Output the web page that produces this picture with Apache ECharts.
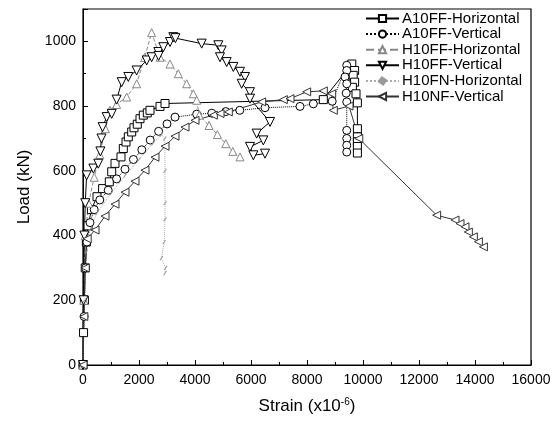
<!DOCTYPE html>
<html><head><meta charset="utf-8">
<script src="https://cdn.jsdelivr.net/npm/echarts@6/dist/echarts.min.js"></script>
<style>html,body{margin:0;padding:0;background:#fff}#c{width:560px;height:423px}</style>
</head><body><div id="c"></div>
<script>
var seriesNames = ['A10FF-Horizontal','A10FF-Vertical','H10FF-Horizontal','H10FF-Vertical','H10FN-Horizontal','H10NF-Vertical'];
var xTicks = [0,2000,4000,6000,8000,10000,12000,14000,16000];
var yTicks = [0,200,400,600,800,1000];

var a10ffH = [[0,0],[20,100],[50,200],[80,300],[120,380],[180,430],[300,480],[500,520],[700,545],[940,566],[1025,597],[1143,623],[1357,643],[1440,669],[1536,689],[1618,705],[1739,720],[1821,733],[1939,744],[2036,761],[2154,772],[2296,779],[2393,787],[2750,799],[2929,808],[8583,820],[9600,930],[9700,910],[9650,895],[9700,874],[9620,858],[9750,838],[9800,810],[9800,730],[9800,705],[9800,690],[9800,675],[9800,655]];
var a10ffV = [[0,0],[40,150],[90,300],[140,380],[250,440],[400,480],[600,510],[900,540],[1200,575],[1500,605],[1800,635],[2100,665],[2400,695],[2700,722],[3000,745],[3286,766],[4060,775],[4600,778],[5100,783],[5600,787],[6500,795],[7750,799],[8226,807],[8900,815],[9420,926],[9420,910],[9357,890],[9420,869],[9400,840],[9420,813],[9420,725],[9420,700],[9420,679],[9420,658]];
var h10ffH = [[0,0],[30,200],[80,400],[200,500],[400,580],[600,650],[800,730],[964,787],[1200,805],[1560,828],[1918,869],[2200,950],[2452,1027],[2750,951],[3107,930],[3404,900],[3702,869],[3940,838],[4060,818],[4150,772],[4500,740],[4800,712],[5100,684],[5350,660],[5607,643]];
var h10ffV = [[0,0],[20,200],[50,400],[80,500],[130,586],[370,607],[546,622],[620,660],[660,700],[700,735],[845,766],[1025,776],[1200,820],[1382,874],[1618,890],[1914,910],[2275,941],[2452,951],[2690,967],[2700,955],[2869,982],[3107,998],[3225,1013],[3300,1010],[4238,993],[4833,988],[4952,972],[4893,951],[5131,936],[5369,921],[5607,906],[5786,890],[5667,869],[5964,843],[5964,823],[6679,751],[6202,715],[6440,694],[5964,674],[6083,648],[6500,653]];
var h10fnH = [[0,0],[60,200],[120,350],[250,420],[500,470],[1000,530],[1500,585],[2000,635],[2500,685],[2800,712],[2920,700],[2930,600],[2930,500],[2930,450],[2900,380],[2800,330],[2950,300],[2930,284]];
var h10nfV = [[0,0],[30,150],[80,300],[150,390],[430,417],[786,460],[1143,497],[1500,534],[1857,568],[2214,602],[2571,642],[2929,676],[3286,707],[3643,735],[4000,756],[4655,772],[4893,777],[5190,782],[6381,813],[7155,820],[7393,823],[7988,844],[8583,847],[8881,838],[8940,787],[9500,800],[9850,700],[12630,463],[13286,448],[13464,437],[13643,427],[13762,411],[13940,396],[14120,381],[14300,365]];

var chart = echarts.init(document.getElementById('c'), null, {renderer:'canvas'});
var font = 'Liberation Sans, Arial, sans-serif';
function mk(name, data, opt) {
  return Object.assign({
    name: name, type: 'line', data: data, symbolSize: 8,
    itemStyle: {color: '#fff', borderColor: '#000', borderWidth: 1},
    lineStyle: {color: '#000', width: 1},
    animation: false
  }, opt);
}
chart.setOption({
  animation: false,
  grid: {left: 83, right: 29, top: 9, bottom: 58, show: true, borderColor: '#000', borderWidth: 1.2},
  legend: {
    orient: 'vertical', left: 360, top: 6, itemWidth: 33, itemHeight: 9, itemGap: 0.6,
    textStyle: {fontFamily: font, fontSize: 15, color: '#000', padding: [0,0,0,-2]},
    data: seriesNames
  },
  xAxis: {
    type: 'value', min: 0, max: 16000, interval: 2000,
    name: 'Strain (x10{s|-6})', nameLocation: 'middle', nameGap: 32,
    nameTextStyle: {fontFamily: font, fontSize: 17, color: '#000', rich: {s: {fontSize: 10, verticalAlign: 'top', padding: [0,0,9,0], fontFamily: font}}},
    axisLine: {lineStyle: {color: '#000'}},
    axisTick: {inside: true, length: 5, lineStyle: {color: '#000'}},
    minorTick: {show: true, splitNumber: 2, length: 3, lineStyle: {color: '#000'}},
    axisLabel: {fontFamily: font, fontSize: 14, color: '#000', margin: 8, formatter: function (v) { return String(v); }},
    splitLine: {show: false}
  },
  yAxis: {
    type: 'value', min: 0, max: 1100, interval: 200,
    name: 'Load (kN)', nameLocation: 'middle', nameGap: 50,
    nameTextStyle: {fontFamily: font, fontSize: 17, color: '#000'},
    axisLine: {lineStyle: {color: '#000'}},
    axisTick: {inside: true, length: 5, lineStyle: {color: '#000'}},
    minorTick: {show: true, splitNumber: 2, length: 3, lineStyle: {color: '#000'}},
    axisLabel: {fontFamily: font, fontSize: 14, color: '#000', margin: 7, showMaxLabel: false, formatter: function (v) { return String(v); }},
    splitLine: {show: false}
  },
  series: [
    mk(seriesNames[0], a10ffH, {symbol: 'rect', symbolSize: 8}),
    mk(seriesNames[1], a10ffV, {symbol: 'circle', symbolSize: 8, lineStyle: {color: '#000', width: 1, type: 'dotted'}}),
    mk(seriesNames[2], h10ffH, {symbol: 'triangle', symbolSize: 8, itemStyle: {color: '#fff', borderColor: '#888', borderWidth: 1}, lineStyle: {color: '#888', width: 1, type: 'dashed'}}),
    mk(seriesNames[3], h10ffV, {symbol: 'triangle', symbolRotate: 180, symbolSize: 9}),
    mk(seriesNames[4], h10fnH, {symbol: 'rect', symbolSize: [1,5], symbolRotate: -35, itemStyle: {color: '#999', borderColor: '#999', borderWidth: 0}, lineStyle: {color: '#aaa', width: 1, type: 'dotted'}}),
    mk(seriesNames[5], h10nfV, {symbol: 'triangle', symbolRotate: 90, symbolSize: 8, itemStyle: {color: '#fff', borderColor: '#333', borderWidth: 1}, lineStyle: {color: '#333', width: 1}})
  ]
});
</script></body></html>
